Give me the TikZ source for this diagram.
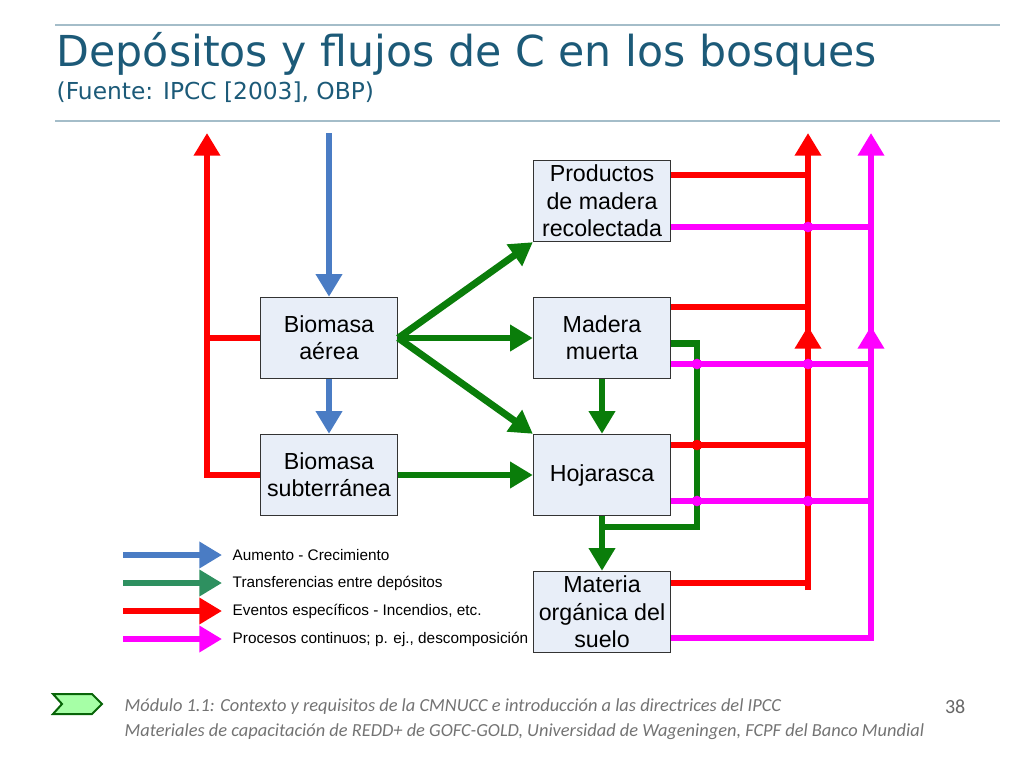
\documentclass[tikz,border=0pt]{standalone}
\usepackage{fontspec}
\setmainfont{Liberation Sans}
\newfontfamily\titlefont{DejaVu Sans}
\newfontfamily\footfont{Carlito}
\usetikzlibrary{arrows.meta}
\definecolor{titleblue}{HTML}{1C5A78}
\definecolor{boxfill}{HTML}{E8EEF8}
\definecolor{flowblue}{HTML}{4A7CC4}
\definecolor{flowgreen}{HTML}{0A7D0A}
\definecolor{legteal}{HTML}{2E9060}
\definecolor{flowred}{HTML}{FF0000}
\definecolor{flowmag}{HTML}{FF00FF}

\begin{document}
\begin{tikzpicture}[x=0.75pt,y=-0.75pt,
  pool/.style={draw=black!80,fill=boxfill,line width=0.8pt,minimum width=103pt,minimum height=61pt,align=center,font=\fontsize{17.4}{20.5}\selectfont,inner sep=1pt},
  flow/.style={line width=5.2pt},
  tip/.style={-{Triangle[width=19pt,length=17pt]}},
  hop/.style={circle,fill=flowmag,inner sep=0pt,minimum size=8pt}]
    \useasboundingbox (0,0) rectangle (1024,768);
    \draw[titleblue!40,line width=0.8pt] (55,25) -- (1000,25);
    \draw[titleblue!40,line width=0.8pt] (55,121) -- (1000,121);
    \node[anchor=west,text=titleblue,font=\titlefont\fontsize{32}{36}\selectfont] (title) at (52,54) {Depósitos y flujos de C en los bosques};
    \node[anchor=west,text=titleblue,font=\titlefont\fontsize{17.5}{20}\selectfont] (sub) at (52,92) {(Fuente: IPCC [2003], OBP)};

    \node[pool] (aerea) at (329,338) {Biomasa\\aérea};
    \node[pool] (subt) at (329,475) {Biomasa\\subterránea};
    \node[pool] (prod) at (602,201) {Productos\\de madera\\recolectada};
    \node[pool] (muerta) at (602,338) {Madera\\muerta};
    \node[pool] (hoja) at (602,475) {Hojarasca};
    \node[pool] (suelo) at (602,612) {Materia\\orgánica del\\suelo};

    \coordinate (btop) at (329,133);
    \coordinate (rtopL) at (207,133);
    \coordinate (rtopR) at (808,133);
    \coordinate (mtop) at (871,133);
    \coordinate (gcorner) at (697,527);

    % aumento
    \draw[flow,tip,flowblue] (btop) -- (aerea.north);
    \draw[flow,tip,flowblue] (aerea.south) -- (subt.north);
    % transferencias
    \draw[flow,tip,flowgreen] (aerea.east) -- (prod.south west);
    \draw[flow,tip,flowgreen] (aerea.east) -- (muerta.west);
    \draw[flow,tip,flowgreen] (aerea.east) -- (hoja.north west);
    \draw[flow,tip,flowgreen] (subt.east) -- (hoja.west);
    \draw[flow,tip,flowgreen] (muerta.south) -- (hoja.north);
    \draw[flow,tip,flowgreen] (hoja.south) -- (suelo.north);
    \draw[flow,flowgreen] ([yshift=-4pt]muerta.east) -| (gcorner) -| (602,516);

    % eventos
    \draw[flow,tip,flowred] (subt.west) -| (rtopL);
    \draw[flow,flowred] (aerea.west) -- (207,338);
    \draw[flow,tip,flowred] (suelo.east |- 583,583) -| (rtopR);
    \draw[flow,tip,flowred] (808,590) -- (808,326);
    \draw[flow,flowred] (prod.east |- 0,175) -- (808,175);
    \draw[flow,flowred] (muerta.east |- 0,307) -- (808,307);
    \draw[flow,flowred] (hoja.east |- 0,445) -- (808,445);
    \node[circle,fill=flowred,inner sep=0pt,minimum size=8pt] (redhop) at (697,445) {};

    % continuos
    \draw[flow,tip,flowmag] (suelo.east |- 0,638) -| (mtop);
    \draw[flow,tip,flowmag] (871,640) -- (871,326);
    \draw[flow,flowmag] (prod.east |- 0,227) -- (871,227);
    \draw[flow,flowmag] (muerta.east |- 0,364) -- (871,364);
    \draw[flow,flowmag] (hoja.east |- 0,501) -- (871,501);
    \foreach \hx/\hy [count=\i] in {808/227,697/364,808/364,697/501,808/501}
      \node[hop] (hop\i) at (\hx,\hy) {};

    % leyenda
    \foreach \col/\txt [count=\i] in {flowblue/{Aumento - Crecimiento},legteal/{Transferencias entre depósitos},flowred/{Eventos específicos - Incendios, etc.},flowmag/{Procesos continuos; p. ej., descomposición}}
    {
      \coordinate (ls\i) at (123,527+28*\i);
      \coordinate (le\i) at (222,527+28*\i);
      \draw[flow,tip,\col] (ls\i) -- (le\i);
      \node[anchor=west,font=\fontsize{11.5}{13}\selectfont] (lt\i) at (228,527+28*\i) {\txt};
    }

    % pie
    \fill[green!35,draw=flowgreen!80!black,line width=1.5pt] (53,694) -- (92,694) -- (102,704) -- (92,714) -- (53,714) -- (62,704) -- cycle;
    \node[anchor=west,text=black!55,font=\footfont\itshape\fontsize{13.8}{16}\selectfont] (foot1) at (120,707) {Módulo 1.1: Contexto y requisitos de la CMNUCC e introducción a las directrices del IPCC};
    \node[anchor=west,text=black!55,font=\footfont\itshape\fontsize{13.8}{16}\selectfont] (foot2) at (120,732) {Materiales de capacitación de REDD+ de GOFC-GOLD, Universidad de Wageningen, FCPF del Banco Mundial};
    \node[anchor=east,text=black!60,font=\footfont\fontsize{15}{17}\selectfont] (page) at (970,707) {38};
\end{tikzpicture}
\end{document}
